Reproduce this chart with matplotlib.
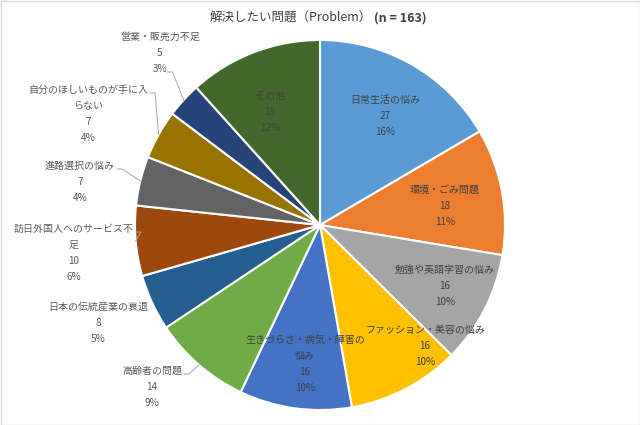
import numpy as np
import matplotlib.pyplot as plt

plt.rcParams['font.family'] = ['Noto Sans CJK JP', 'DejaVu Sans']

labels = ['日常生活の悩み', '環境・ごみ問題', '勉強や英語学習の悩み', 'ファッション・美容の悩み',
          '生きづらさ・病気・障害の\n悩み', '高齢者の問題', '日本の伝統産業の衰退',
          '訪日外国人へのサービス不\n足', '進路選択の悩み', '自分のほしいものが手に入\nらない',
          '営業・販売力不足', 'その他']
counts = [27, 18, 16, 16, 16, 14, 8, 10, 7, 7, 5, 19]
percents = ['16%', '11%', '10%', '10%', '10%', '9%', '5%', '6%', '4%', '4%', '3%', '12%']
colors = ['#5B9BD5', '#ED7D31', '#A5A5A5', '#FFC000', '#4472C4', '#70AD47',
          '#255E91', '#9E480E', '#636363', '#997300', '#264478', '#43682B']

# label text centres in image pixels (layout only), and whether outside the pie
label_pos = [(385, 116), (445, 206), (445, 286), (425, 346), (305, 364), (152, 387),
             (98, 323), (74, 253), (80, 182), (88, 114), (160, 53), (270, 112)]
outside = [False, False, False, False, False, True, True, True, True, True, True, False]
# which text line the leader line leaves from (None = no leader line)
leader_line = [None, None, None, None, None, 0, None, 0, 0, 0, 2, None]

W, H = 640, 425
fig = plt.figure(figsize=(6.4, 4.25), dpi=100)
ax = fig.add_axes([0, 0, 1, 1])

cx, cy, r = 320, H - 225, 185
wedges, _ = ax.pie(counts, colors=colors, startangle=90, counterclock=False,
                   center=(cx, cy), radius=r, frame=True,
                   wedgeprops=dict(edgecolor='white', linewidth=1.5))
ax.set_xlim(0, W)
ax.set_ylim(0, H)
ax.set_aspect('equal')
ax.axis('off')

for i, w in enumerate(wedges):
    lines = (labels[i] + '\n' + str(counts[i]) + '\n' + percents[i]).split('\n')
    x, y = label_pos[i]
    col = '#595959' if outside[i] else '#404040'
    ax.text(x, H - y, '\n'.join(lines), ha='center', va='center', fontsize=7.2,
            color=col, linespacing=1.75)
    k = leader_line[i]
    if k is not None:
        ang = np.deg2rad((w.theta1 + w.theta2) / 2)
        px, py = cx + r * np.cos(ang), cy + r * np.sin(ang)
        ty = H - y + ((len(lines) - 1) / 2 - k) * 16 - 3
        half = sum(10 if ord(c) > 255 else 5.5 for c in lines[k]) / 2
        sx = x + half + 2
        ax.plot([sx, sx + 5, px], [ty, ty, py], color='#A6A6A6', linewidth=0.7)

ax.text(372, H - 18, '解決したい問題（Problem）', ha='right', va='center',
        fontsize=9, color='#404040')
ax.text(374, H - 18, '(n = 163)', ha='left', va='center', fontsize=9,
        color='#404040', fontweight='bold')

ax.add_patch(plt.Rectangle((0.5, 0.5), W - 1, H - 1, fill=False, edgecolor='#D9D9D9',
                           linewidth=1))

fig.savefig('out.png', dpi=100)
